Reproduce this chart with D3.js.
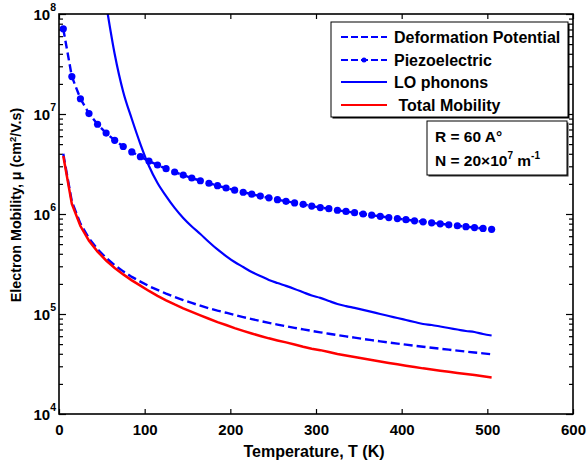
<!DOCTYPE html>
<html>
<head>
<meta charset="utf-8">
<script src="https://cdn.jsdelivr.net/npm/d3@7"></script>
<style>
  body { margin: 0; background: #fff; }
  svg { display: block; font-family: "Liberation Sans", Arial, sans-serif; font-weight: bold; }
</style>
</head>
<body>
<div id="chart"></div>
<script>
const width = 587;
const height = 466;

// temperature grid (K)
const temps = [5, 15, 25, 35, 45, 55, 65, 75, 85, 95, 105, 115, 125, 135, 145, 155, 165, 175, 185, 195,
	205, 215, 225, 235, 245, 255, 265, 275, 285, 295, 305, 315, 325, 335, 345, 355, 365, 375, 385, 395,
	405, 415, 425, 435, 445, 455, 465, 475, 485, 495, 505];

// mobilities, cm^2/V.s
const deformation = [4.0e6, 1.33e6, 8.0e5, 5.71e5, 4.44e5, 3.64e5, 3.08e5, 2.67e5, 2.35e5, 2.11e5,
	1.90e5, 1.74e5, 1.60e5, 1.48e5, 1.38e5, 1.29e5, 1.21e5, 1.14e5, 1.08e5, 1.03e5,
	9.76e4, 9.30e4, 8.89e4, 8.51e4, 8.16e4, 7.84e4, 7.55e4, 7.27e4, 7.02e4, 6.78e4,
	6.56e4, 6.35e4, 6.15e4, 5.97e4, 5.80e4, 5.63e4, 5.48e4, 5.33e4, 5.19e4, 5.06e4,
	4.94e4, 4.82e4, 4.71e4, 4.60e4, 4.49e4, 4.40e4, 4.30e4, 4.21e4, 4.12e4, 4.04e4, 3.96e4];

const piezo = [7.1e7, 2.37e7, 1.42e7, 1.01e7, 7.9e6, 6.45e6, 5.46e6, 4.73e6, 4.18e6, 3.74e6,
	3.38e6, 3.09e6, 2.84e6, 2.63e6, 2.45e6, 2.29e6, 2.15e6, 2.03e6, 1.92e6, 1.82e6,
	1.73e6, 1.65e6, 1.58e6, 1.51e6, 1.45e6, 1.39e6, 1.34e6, 1.29e6, 1.25e6, 1.20e6,
	1.16e6, 1.13e6, 1.09e6, 1.06e6, 1.03e6, 1.00e6, 9.73e5, 9.47e5, 9.22e5, 8.99e5,
	8.77e5, 8.55e5, 8.35e5, 8.16e5, 7.98e5, 7.80e5, 7.63e5, 7.47e5, 7.32e5, 7.17e5, 7.03e5];

// LO phonons only come into view from ~55 K (starts at temps[5])
const loPhonon = [1.26e8, 3.98e7, 1.66e7, 8.91e6, 5.01e6, 3.02e6, 2.04e6, 1.51e6, 1.15e6, 9.12e5,
	7.50e5, 6.31e5, 5.25e5, 4.42e5, 3.80e5, 3.31e5, 2.95e5, 2.63e5, 2.40e5, 2.19e5,
	2.04e5, 1.91e5, 1.78e5, 1.65e5, 1.53e5, 1.45e5, 1.35e5, 1.26e5, 1.20e5, 1.15e5,
	1.10e5, 1.05e5, 1.00e5, 9.55e4, 9.12e4, 8.71e4, 8.32e4, 7.94e4, 7.76e4, 7.50e4,
	7.24e4, 7.00e4, 6.76e4, 6.61e4, 6.31e4, 6.10e4];

const total = [3.8e6, 1.26e6, 7.58e5, 5.41e5, 4.21e5, 3.43e5, 2.89e5, 2.49e5, 2.17e5, 1.92e5,
	1.70e5, 1.52e5, 1.37e5, 1.245e5, 1.14e5, 1.05e5, 9.70e4, 8.96e4, 8.28e4, 7.76e4,
	7.22e4, 6.78e4, 6.38e4, 6.03e4, 5.71e4, 5.44e4, 5.20e4, 4.96e4, 4.71e4, 4.50e4,
	4.35e4, 4.16e4, 3.98e4, 3.84e4, 3.72e4, 3.59e4, 3.47e4, 3.35e4, 3.24e4, 3.14e4,
	3.04e4, 2.95e4, 2.86e4, 2.79e4, 2.71e4, 2.64e4, 2.57e4, 2.51e4, 2.45e4, 2.38e4, 2.32e4];

const xTicks = [0, 100, 200, 300, 400, 500, 600];
const yExponents = [4, 5, 6, 7, 8];
const legendNames = ["Deformation Potential", "Piezoelectric", "LO phonons", " Total Mobility"];

const margin = { top: 14, right: 14, bottom: 52, left: 59 };
const iw = width - margin.left - margin.right;
const ih = height - margin.top - margin.bottom;

const svg = d3.select("#chart").append("svg")
	.attr("width", width)
	.attr("height", height);

const x = d3.scaleLinear().domain([0, 600]).range([margin.left, margin.left + iw]);
const y = d3.scaleLog().domain([1e4, 1e8]).range([margin.top + ih, margin.top]);

svg.append("clipPath").attr("id", "plot")
	.append("rect")
	.attr("x", margin.left).attr("y", margin.top)
	.attr("width", iw).attr("height", ih);

// ticks (all inward), on four sides
const majorY = yExponents.map(e => Math.pow(10, e));
const minorY = y.ticks().filter(v => !majorY.includes(v));

const tickGroup = svg.append("g").attr("class", "ticks");
tickGroup.append("g").attr("transform", `translate(0,${margin.top + ih})`)
	.call(d3.axisBottom(x).tickValues(xTicks).tickSize(-5).tickPadding(10).tickFormat(d3.format("d")));
tickGroup.append("g").attr("transform", `translate(0,${margin.top})`)
	.call(d3.axisTop(x).tickValues(xTicks).tickSize(-5).tickFormat(""));
tickGroup.append("g").attr("transform", `translate(${margin.left},0)`)
	.call(d3.axisLeft(y).tickValues(majorY).tickSize(-7).tickFormat(""));
tickGroup.append("g").attr("transform", `translate(${margin.left},0)`)
	.call(d3.axisLeft(y).tickValues(minorY).tickSize(-4).tickFormat(""));
tickGroup.append("g").attr("transform", `translate(${margin.left + iw},0)`)
	.call(d3.axisRight(y).tickValues(majorY).tickSize(-7).tickFormat(""));
tickGroup.append("g").attr("transform", `translate(${margin.left + iw},0)`)
	.call(d3.axisRight(y).tickValues(minorY).tickSize(-4).tickFormat(""));

tickGroup.selectAll(".domain").remove();
tickGroup.selectAll(".tick line").attr("stroke", "#000").attr("stroke-width", 1.2);
tickGroup.selectAll(".tick text")
	.attr("font-size", 15).attr("font-weight", "bold")
	.attr("font-family", "'Liberation Sans', Arial, sans-serif").attr("fill", "#000");

// y tick labels 10^n
const yl = svg.append("g").selectAll("text").data(yExponents).join("text")
	.attr("x", margin.left - 3)
	.attr("y", d => y(Math.pow(10, d)) + 6)
	.attr("text-anchor", "end")
	.attr("font-size", 15);
yl.append("tspan").text("10");
yl.append("tspan").attr("dy", -9).attr("font-size", 10.5).text(d => d);

// series
const pts = vals => vals.map((v, i) => [temps[i + (temps.length - vals.length)], v]);
const line = d3.line().x(d => x(d[0])).y(d => y(d[1]));
const smooth = d3.line().x(d => x(d[0])).y(d => y(d[1])).curve(d3.curveMonotoneX);

const plot = svg.append("g").attr("clip-path", "url(#plot)");

plot.append("path").datum(pts(deformation))
	.attr("d", line).attr("fill", "none")
	.attr("stroke", "#0000ff").attr("stroke-width", 2.4).attr("stroke-dasharray", "9,4");

plot.append("path").datum(pts(piezo))
	.attr("d", line).attr("fill", "none")
	.attr("stroke", "#0000ff").attr("stroke-width", 2.4).attr("stroke-dasharray", "8,4");
plot.append("g").selectAll("circle").data(pts(piezo)).join("circle")
	.attr("cx", d => x(d[0])).attr("cy", d => y(d[1])).attr("r", 3.6)
	.attr("fill", "#0000ff");

plot.append("path").datum(pts(loPhonon))
	.attr("d", smooth).attr("fill", "none")
	.attr("stroke", "#0000ff").attr("stroke-width", 2.2);

plot.append("path").datum(pts(total))
	.attr("d", line).attr("fill", "none")
	.attr("stroke", "#ff0000").attr("stroke-width", 2.5);

// frame
svg.append("rect")
	.attr("x", margin.left).attr("y", margin.top)
	.attr("width", iw).attr("height", ih)
	.attr("fill", "none").attr("stroke", "#000").attr("stroke-width", 1.6);

// axis titles
svg.append("text")
	.attr("x", 314).attr("y", 457)
	.attr("text-anchor", "middle").attr("font-size", 16)
	.text("Temperature, T (K)");

const ytitle = svg.append("text")
	.attr("transform", `translate(20.5,205) rotate(-90)`)
	.attr("text-anchor", "middle").attr("font-size", 14.3);
ytitle.append("tspan").text("Electron Mobility, μ (cm");
ytitle.append("tspan").attr("dy", -5).attr("font-size", 9.5).text("2");
ytitle.append("tspan").attr("dy", 5).text("/V.s)");

// legend
const lg = svg.append("g").attr("transform", "translate(331,22)");
lg.append("rect").attr("x", 1.5).attr("y", 1.5).attr("width", 237).attr("height", 95).attr("fill", "#000");
lg.append("rect").attr("width", 237).attr("height", 95)
	.attr("fill", "#fff").attr("stroke", "#000").attr("stroke-width", 1);

const styles = [
	{ dash: "7,3", dot: false, color: "#0000ff" },
	{ dash: "7,3", dot: true, color: "#0000ff" },
	{ dash: null, dot: false, color: "#0000ff" },
	{ dash: null, dot: false, color: "#ff0000" }
];
const rowY = [15, 38, 60, 83];
const entry = lg.selectAll("g.entry").data(legendNames).join("g")
	.attr("class", "entry")
	.attr("transform", (d, i) => `translate(0,${rowY[i]})`);
entry.append("line")
	.attr("x1", 10).attr("x2", 56).attr("y1", 0).attr("y2", 0)
	.attr("stroke", (d, i) => styles[i].color).attr("stroke-width", 2)
	.attr("stroke-dasharray", (d, i) => styles[i].dash);
entry.filter((d, i) => styles[i].dot).append("circle")
	.attr("cx", 33).attr("cy", 0).attr("r", 2.5).attr("fill", "#0000ff");
entry.append("text")
	.attr("x", 63).attr("y", 5.7)
	.attr("font-size", 16)
	.style("white-space", "pre")
	.text(d => d);

// parameter box
const pb = svg.append("g").attr("transform", "translate(427,121)");
pb.append("rect").attr("x", 1.5).attr("y", 1.5).attr("width", 140).attr("height", 54).attr("fill", "#333");
pb.append("rect").attr("width", 140).attr("height", 54)
	.attr("fill", "#fff").attr("stroke", "#000").attr("stroke-width", 1);
pb.append("text").attr("x", 8).attr("y", 21).attr("font-size", 15.5).text("R = 60 A°");
const nt = pb.append("text").attr("x", 8).attr("y", 45).attr("font-size", 15.5);
nt.append("tspan").text("N = 20×10");
nt.append("tspan").attr("dy", -7).attr("font-size", 10).text("7");
nt.append("tspan").attr("dy", 7).text(" m");
nt.append("tspan").attr("dy", -7).attr("font-size", 10).text("-1");
</script>
</body>
</html>
